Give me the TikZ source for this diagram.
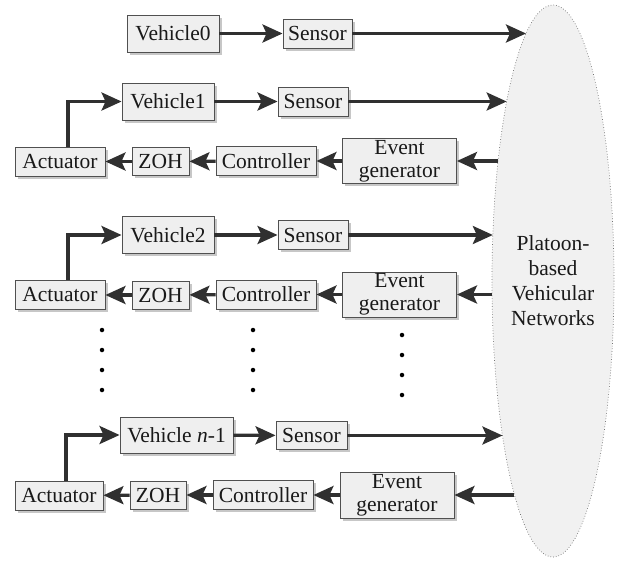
\documentclass[tikz,border=0pt]{standalone}
\usepackage{fontspec}
\setmainfont{Liberation Serif}
\usetikzlibrary{arrows.meta,shadows,calc}
\definecolor{boxfill}{HTML}{EFEFEF}
\definecolor{boxline}{HTML}{505050}
\definecolor{wire}{HTML}{303030}
\definecolor{cloud}{HTML}{F1F1F1}
\begin{document}
\begin{tikzpicture}[x=1pt,y=-1pt,
  blk/.style={draw=boxline, line width=0.9pt, fill=boxfill, inner sep=0pt,
    text=black!90, font=\fontsize{21.5}{22}\selectfont,
    drop shadow={shadow xshift=2.5pt, shadow yshift=-2.5pt, opacity=0.22, fill=black},
    minimum height=29pt},
  tall/.style={minimum height=37pt},
  gen/.style={minimum height=45pt, minimum width=114pt, align=center,
    font=\fontsize{21.5}{23}\selectfont},
  link/.style={draw=wire, line width=3.2pt,
    -{Stealth[length=20pt,width=18pt,inset=4pt]}},
  dotmark/.style={circle, fill=black, inner sep=0pt, minimum size=4.5pt}
]
\useasboundingbox (0,0) rectangle (621,562);

% the network cloud
\def\ecx{553}\def\ecy{281}\def\ea{61}\def\eb{276}
\draw[fill=cloud, draw=black!55, line width=0.7pt, dotted]
  (\ecx,\ecy) ellipse [x radius=\ea, y radius=\eb];
\node[align=center, text=black!90, font=\fontsize{21.5}{25}\selectfont]
  (nettxt) at (\ecx,\ecy) {Platoon-\\based\\Vehicular\\Networks};

% points on the left border of the cloud at a given height
\newcommand{\edgept}[2]{%
  \coordinate (#1) at ({\ecx-\ea*sqrt(1-((#2-\ecy)/\eb)^2)},#2);}

% leading vehicle
\node[blk, tall, minimum width=92pt] (v0) at (173,33.5) {Vehicle0};
\node[blk, minimum width=69pt] (s0) at (317.5,33.5) {Sensor};
\edgept{e0}{33.5}
\draw[link] (v0) -- (s0);
\draw[link] (s0) -- (e0);

% follower 1
\node[blk, tall, minimum width=92pt] (v1) at (168,101.5) {Vehicle1};
\node[blk, minimum width=70pt] (s1) at (313,101.5) {Sensor};
\node[blk, minimum width=90pt] (a1) at (60,161.5) {Actuator};
\node[blk, minimum width=57pt, minimum height=28pt] (z1) at (160.5,161.5) {ZOH};
\node[blk, minimum width=100pt] (c1) at (266,161) {Controller};
\node[blk, gen] (g1) at (399.5,161) {Event\\generator};
\edgept{e1}{101.5}
\edgept{f1}{161}
\draw[link] (v1) -- (s1);
\draw[link] (s1) -- (e1);
\draw[link] (f1) -- (g1);
\draw[link] (g1) -- (c1);
\draw[link] (c1) -- (z1);
\draw[link] (z1) -- (a1);
\draw[link] ([xshift=8pt]a1.north) |- (v1.west);

% follower 2
\node[blk, tall, minimum width=92pt] (v2) at (168,235) {Vehicle2};
\node[blk, minimum width=70pt] (s2) at (313,235) {Sensor};
\node[blk, minimum width=90pt] (a2) at (60,295) {Actuator};
\node[blk, minimum width=57pt, minimum height=28pt] (z2) at (160.5,295) {ZOH};
\node[blk, minimum width=100pt] (c2) at (266,294.5) {Controller};
\node[blk, gen] (g2) at (399.5,294.5) {Event\\generator};
\edgept{e2}{235}
\edgept{f2}{294.5}
\draw[link] (v2) -- (s2);
\draw[link] (s2) -- (e2);
\draw[link] (f2) -- (g2);
\draw[link] (g2) -- (c2);
\draw[link] (c2) -- (z2);
\draw[link] (z2) -- (a2);
\draw[link] ([xshift=8pt]a2.north) |- (v2.west);

% ellipsis between follower 2 and follower n-1
\foreach \k/\yy in {1/330,2/350,3/370,4/390}{
  \node[dotmark] (da\k) at (102,\yy) {};
  \node[dotmark] (db\k) at (253,\yy) {};
}
\foreach \k/\yy in {1/335,2/355,3/375,4/395}{
  \node[dotmark] (dc\k) at (402,\yy) {};
}

% follower n-1
\node[blk, tall, minimum width=113pt, minimum height=36pt] (vn) at (176.5,435) {Vehicle \textit{n}-1};
\node[blk, minimum width=71pt, minimum height=28pt] (sn) at (311.5,435.5) {Sensor};
\node[blk, minimum width=88pt] (an) at (59,495.5) {Actuator};
\node[blk, minimum width=56pt, minimum height=28pt] (zn) at (158,495) {ZOH};
\node[blk, minimum width=100pt] (cn) at (263,495) {Controller};
\node[blk, gen, minimum height=46pt] (gn) at (397,495) {Event\\generator};
\edgept{en}{435.5}
\edgept{fn}{495}
\draw[link] (vn) -- (sn);
\draw[link] (sn) -- (en);
\draw[link] (fn) -- (gn);
\draw[link] (gn) -- (cn);
\draw[link] (cn) -- (zn);
\draw[link] (zn) -- (an);
\draw[link] ([xshift=7pt]an.north) |- (vn.west);
\end{tikzpicture}
\end{document}
